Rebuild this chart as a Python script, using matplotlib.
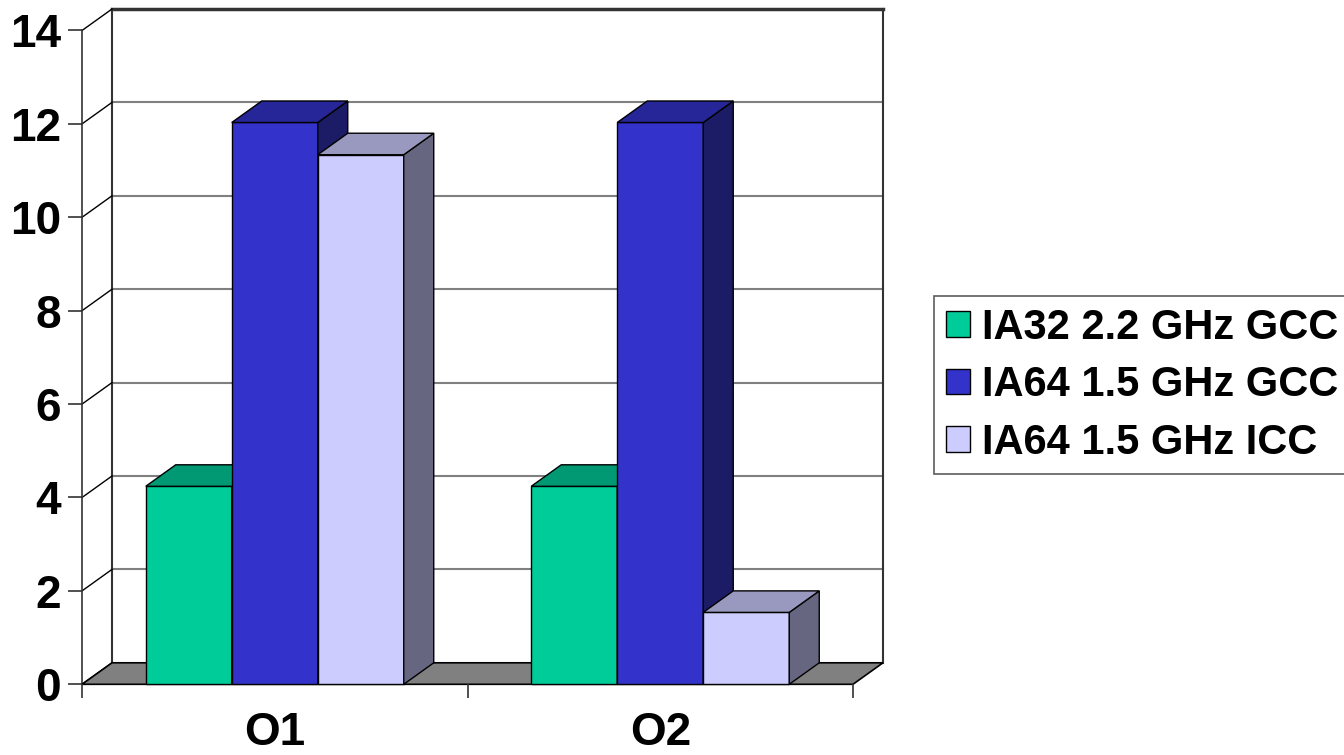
import matplotlib
matplotlib.use("Agg")
import matplotlib.pyplot as plt
from matplotlib.patches import Polygon, Patch

categories = ["O1", "O2"]
series = ["IA32 2.2 GHz GCC", "IA64 1.5 GHz GCC", "IA64 1.5 GHz ICC"]
values = [
    [4.24, 4.24],    # IA32 2.2 GHz GCC
    [12.03, 12.03],  # IA64 1.5 GHz GCC
    [11.34, 1.54],   # IA64 1.5 GHz ICC
]
yticks = [0, 2, 4, 6, 8, 10, 12, 14]

front_colors = ["#00CC99", "#3333CC", "#CCCCFF"]
top_colors = ["#009973", "#262699", "#9999BF"]
side_colors = ["#007358", "#1C1C66", "#666680"]

plt.rcParams['font.family'] = ['Liberation Sans', 'DejaVu Sans']
plt.rcParams['font.weight'] = 'bold'

W, H = 1344, 755
fig = plt.figure(figsize=(W / 100, H / 100), dpi=100)
fig.patch.set_facecolor("white")

ax_l, ax_r, ax_top, ax_bot = 82, 853, 30.5, 684.3
ax = fig.add_axes([ax_l / W, 1 - ax_bot / H, (ax_r - ax_l) / W, (ax_bot - ax_top) / H])
ymax = 14
ax.set_xlim(0, len(categories))
ax.set_ylim(0, ymax)
ax.set_facecolor("none")

# depth offset in data units
px_per_x = (ax_r - ax_l) / len(categories)
px_per_y = (ax_bot - ax_top) / ymax
dx = 30 / px_per_x
dy = 21.5 / px_per_y
X1 = len(categories)

def poly(pts, fc, ec="black", lw=1.0, z=2):
    p = Polygon(pts, closed=True, facecolor=fc, edgecolor=ec, linewidth=lw,
                clip_on=False, zorder=z, joinstyle="miter")
    ax.add_patch(p)

# back wall gridlines
for v in yticks[1:-1]:
    ax.plot([dx, X1 + dx], [v + dy, v + dy], color="#808080", lw=1.5,
            clip_on=False, zorder=1)
# back wall frame
ax.plot([dx, dx], [dy, ymax + dy], color="#333333", lw=1.5, clip_on=False, zorder=1)
ax.plot([X1 + dx, X1 + dx], [dy, ymax + dy], color="#333333", lw=1.5, clip_on=False, zorder=1)
ax.plot([dx, X1 + dx], [ymax + dy, ymax + dy], color="#333333", lw=2.5, clip_on=False, zorder=1)
# side wall diagonals
for v in yticks:
    ax.plot([0, dx], [v, v + dy], color="black", lw=1.0, clip_on=False, zorder=1)

# floor
poly([(0, 0), (X1, 0), (X1 + dx, dy), (dx, dy)], "#808080", lw=1.2, z=1.5)

# bars
n = len(series)
bw = 86 / px_per_x
for ci in range(len(categories)):
    start = ci + 0.5 - n * bw / 2
    for si in range(n):
        x0 = start + si * bw
        x1 = x0 + bw
        h = values[si][ci]
        # front
        poly([(x0, 0), (x1, 0), (x1, h), (x0, h)], front_colors[si], z=3)
        # side
        poly([(x1, 0), (x1 + dx, dy), (x1 + dx, h + dy), (x1, h)], side_colors[si], z=3)
        # top
        poly([(x0, h), (x1, h), (x1 + dx, h + dy), (x0 + dx, h + dy)], top_colors[si], z=3)

# axes styling
for s in ["top", "right", "bottom"]:
    ax.spines[s].set_visible(False)
ax.spines["left"].set_color("#333333")
ax.spines["left"].set_linewidth(1.2)
ax.spines["left"].set_zorder(1)
ax.set_yticks(yticks)
ax.set_yticklabels([str(v) for v in yticks])
ax.tick_params(axis="y", direction="out", length=10, width=1.2, color="#333333",
               labelsize=33, pad=5)
ax.set_xticks([i + 0.5 for i in range(len(categories))])
ax.set_xticklabels(categories)
ax.set_xticks(list(range(len(categories) + 1)), minor=True)
ax.tick_params(axis="x", which="major", length=0, labelsize=33, pad=19)
ax.tick_params(axis="x", which="minor", direction="out", length=10, width=1.2,
               color="#333333")
for lab in ax.get_xticklabels() + ax.get_yticklabels():
    lab.set_fontweight("bold")

handles = [Patch(facecolor=c, edgecolor="black", linewidth=1.0) for c in front_colors]
leg = fig.legend(handles, series, loc="upper left",
                 bbox_to_anchor=(934 / W, 1 - 296 / H),
                 prop={"size": 30, "weight": "bold"},
                 frameon=True, fancybox=False, shadow=False,
                 handlelength=0.58, handleheight=0.58, handletextpad=0.3,
                 borderpad=0.28, labelspacing=0.42, borderaxespad=0)
leg.get_frame().set_edgecolor("#333333")
leg.get_frame().set_linewidth(1.2)

fig.savefig("out.png", dpi=100, facecolor="white")
